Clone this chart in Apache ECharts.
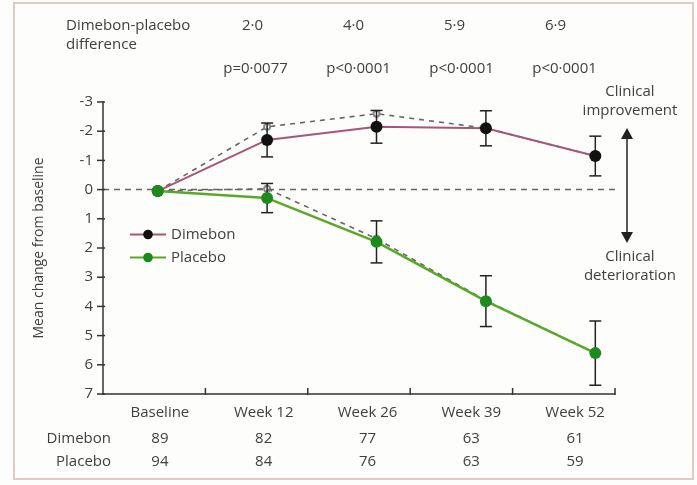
<!DOCTYPE html>
<html>
<head>
<meta charset="utf-8">
<script src="https://cdn.jsdelivr.net/npm/echarts@6/dist/echarts.min.js"></script>
<style>
html,body{margin:0;padding:0;background:#fdfdfb;}
#chart{width:697px;height:485px;}
</style>
</head>
<body>
<div id="chart"></div>
<script>
const categories = ['Baseline', 'Week 12', 'Week 26', 'Week 39', 'Week 52'];
const dimebonMean = [0.05, -1.7, -2.15, -2.1, -1.15];
const dimebonErr = [0, 0.58, 0.56, 0.6, 0.68];
const placeboMean = [0.05, 0.29, 1.79, 3.82, 5.6];
const placeboErr = [0, 0.5, 0.72, 0.87, 1.1];
const dimebonDashed = [0.05, -2.15, -2.6, -2.1, -1.15];
const placeboDashed = [0.05, -0.03, 1.68, 3.8, 5.6];
const dimebonN = [89, 82, 77, 63, 61];
const placeboN = [94, 84, 76, 63, 59];
const differences = ['2·0', '4·0', '5·9', '6·9'];
const pValues = ['p=0·0077', 'p<0·0001', 'p<0·0001', 'p<0·0001'];
const yMin = -3, yMax = 7;

const FONT = '"Open Sans", sans-serif';
const TXT = '#404040';
const FS = 15;

const toXY = arr => arr.map((v, i) => [i, v]);
const errData = (m, e) => m.map((v, i) => [i, v, e[i]]).filter(d => d[2] > 0);

function errorBars(color) {
  return function (params, api) {
    const x = api.value(0), v = api.value(1), e = api.value(2);
    const top = api.coord([x, v - e]);
    const bot = api.coord([x, v + e]);
    const w = 6;
    const style = { stroke: color, lineWidth: 1.5 };
    return {
      type: 'group',
      children: [
        { type: 'line', shape: { x1: top[0], y1: top[1], x2: bot[0], y2: bot[1] }, style },
        { type: 'line', shape: { x1: top[0] - w, y1: top[1], x2: top[0] + w, y2: top[1] }, style },
        { type: 'line', shape: { x1: bot[0] - w, y1: bot[1], x2: bot[0] + w, y2: bot[1] }, style }
      ]
    };
  };
}

const chart = echarts.init(document.getElementById('chart'), null, { renderer: 'canvas' });

const hiddenCat = (gridIndex, data, pos, offset, margin) => ({
  type: 'category', gridIndex, data, position: pos, offset,
  boundaryGap: true,
  axisLine: { show: false, onZero: false }, axisTick: { show: false }, splitLine: { show: false },
  axisLabel: { color: TXT, fontFamily: FONT, fontSize: FS, margin: margin, interval: 0 }
});

const baseGraphic = [
  { type: 'rect', shape: { x: 14, y: 3, width: 679, height: 476 }, style: { fill: 'none', stroke: '#e6c9c4', lineWidth: 2 }, silent: true },
  { type: 'text', left: 66, top: 16, style: { text: 'Dimebon-placebo\ndifference', fill: TXT, font: FS + 'px ' + FONT, lineHeight: 19 } },
  { type: 'text', x: 111, y: 439, style: { text: 'Dimebon', fill: TXT, font: FS + 'px ' + FONT, align: 'right', verticalAlign: 'middle' } },
  { type: 'text', x: 111, y: 462, style: { text: 'Placebo', fill: TXT, font: FS + 'px ' + FONT, align: 'right', verticalAlign: 'middle' } },
  { type: 'text', x: 630, y: 101, style: { text: 'Clinical\nimprovement', fill: TXT, font: FS + 'px ' + FONT, align: 'center', verticalAlign: 'middle', lineHeight: 19 } },
  { type: 'text', x: 630, y: 266, style: { text: 'Clinical\ndeterioration', fill: TXT, font: FS + 'px ' + FONT, align: 'center', verticalAlign: 'middle', lineHeight: 19 } },
  { type: 'line', shape: { x1: 627, y1: 135, x2: 627, y2: 236 }, style: { stroke: '#222', lineWidth: 1.5 } },
  { type: 'polygon', shape: { points: [[627, 128], [621, 139], [633, 139]] }, style: { fill: '#222' } },
  { type: 'polygon', shape: { points: [[627, 243], [621, 232], [633, 232]] }, style: { fill: '#222' } }
];

const option = {
  backgroundColor: '#fdfdfb',
  animation: false,
  textStyle: { fontFamily: FONT },
  grid: [
    { left: 103, right: 82, top: 102, bottom: 91 },
    { left: 108, right: 70, top: 102, bottom: 91 },
    { left: 204, right: 81, top: 102, bottom: 91 },
    { left: 202, right: 91, top: 102, bottom: 91 }
  ],
  legend: {
    data: ['Dimebon', 'Placebo'],
    orient: 'vertical',
    left: 124, top: 222,
    itemWidth: 36, itemHeight: 12, itemGap: 8,
    textStyle: { color: TXT, fontFamily: FONT, fontSize: FS }
  },
  xAxis: [
    {
      type: 'category', gridIndex: 0, data: categories, boundaryGap: true, position: 'bottom',
      axisLine: { show: true, onZero: false, lineStyle: { color: '#333', width: 1.5 } },
      axisTick: { show: false },
      axisLabel: { show: false }
    },
    {
      type: 'value', gridIndex: 0, min: -0.5, max: 4.18, show: false,
      axisLine: { onZero: false }
    },
    hiddenCat(1, categories, 'bottom', 0, 11),
    hiddenCat(1, dimebonN.map(String), 'bottom', 26, 11),
    hiddenCat(1, placeboN.map(String), 'bottom', 49, 11),
    hiddenCat(2, pValues, 'top', 0, 26),
    hiddenCat(3, differences, 'top', 0, 69)
  ],
  yAxis: [
    {
      type: 'value', gridIndex: 0, inverse: true, min: yMin, max: yMax, interval: 1, position: 'left',
      name: 'Mean change from baseline', nameLocation: 'middle', nameGap: 57, nameRotate: 90,
      nameTextStyle: { color: TXT, fontFamily: FONT, fontSize: 14 },
      axisLine: { show: true, onZero: false, lineStyle: { color: '#333', width: 1.5 } },
      axisTick: { show: false },
      splitLine: { show: false },
      axisLabel: { color: TXT, fontFamily: FONT, fontSize: FS, margin: 10 }
    },
    { type: 'value', gridIndex: 1, show: false },
    { type: 'value', gridIndex: 2, show: false },
    { type: 'value', gridIndex: 3, show: false }
  ],
  series: [
    {
      name: 'zero', type: 'line', xAxisIndex: 1, yAxisIndex: 0, data: [], silent: true,
      markLine: {
        silent: true, symbol: 'none', label: { show: false },
        lineStyle: { color: '#666', type: [6, 5], width: 1.3 },
        data: [{ yAxis: 0 }]
      }
    },
    {
      name: 'Dimebon OC', type: 'line', xAxisIndex: 1, yAxisIndex: 0,
      data: toXY(dimebonDashed), symbol: 'emptyCircle', symbolSize: 6,
      lineStyle: { color: '#666', type: [5, 5], width: 1.6 },
      itemStyle: { color: '#888', borderColor: '#777' }, z: 2
    },
    {
      name: 'Placebo OC', type: 'line', xAxisIndex: 1, yAxisIndex: 0,
      data: toXY(placeboDashed), symbol: 'emptyCircle', symbolSize: 6,
      lineStyle: { color: '#666', type: [5, 5], width: 1.6 },
      itemStyle: { color: '#888', borderColor: '#777' }, z: 2
    },
    {
      name: 'Dimebon err', type: 'custom', xAxisIndex: 1, yAxisIndex: 0,
      data: errData(dimebonMean, dimebonErr), renderItem: errorBars('#222'), z: 3
    },
    {
      name: 'Placebo err', type: 'custom', xAxisIndex: 1, yAxisIndex: 0,
      data: errData(placeboMean, placeboErr), renderItem: errorBars('#222'), z: 3
    },
    {
      name: 'Dimebon', type: 'line', xAxisIndex: 1, yAxisIndex: 0,
      data: toXY(dimebonMean), symbol: 'circle', symbolSize: 12,
      lineStyle: { color: '#a8557a', width: 2 },
      itemStyle: { color: '#111' }, z: 4
    },
    {
      name: 'Placebo', type: 'line', xAxisIndex: 1, yAxisIndex: 0,
      data: toXY(placeboMean), symbol: 'circle', symbolSize: 12,
      lineStyle: { color: '#5aa82a', width: 2.5 },
      itemStyle: { color: '#1d8a1d' }, z: 5
    }
  ],
  graphic: baseGraphic
};

chart.setOption(option);

// Tick marks derived from the library's own axis scales
const tickStyle = { stroke: '#333', lineWidth: 1.5 };
const tickGraphics = [];
const c0 = chart.convertToPixel({ xAxisIndex: 0 }, 0);
const c1 = chart.convertToPixel({ xAxisIndex: 0 }, 1);
const band = c1 - c0;
const axisX = c0 - band / 2;
const axisY = chart.convertToPixel({ yAxisIndex: 0 }, yMax);
for (let v = yMin; v <= yMax; v++) {
  const y = chart.convertToPixel({ yAxisIndex: 0 }, v);
  tickGraphics.push({ type: 'line', z: 10, shape: { x1: axisX - 6, y1: y, x2: axisX + 2, y2: y }, style: tickStyle });
}
for (let i = 1; i <= categories.length; i++) {
  const x = axisX + i * band;
  tickGraphics.push({ type: 'line', z: 10, shape: { x1: x, y1: axisY - 6, x2: x, y2: axisY + 1 }, style: tickStyle });
}
chart.setOption({ graphic: baseGraphic.concat(tickGraphics) }, { replaceMerge: ['graphic'] });
</script>
</body>
</html>
